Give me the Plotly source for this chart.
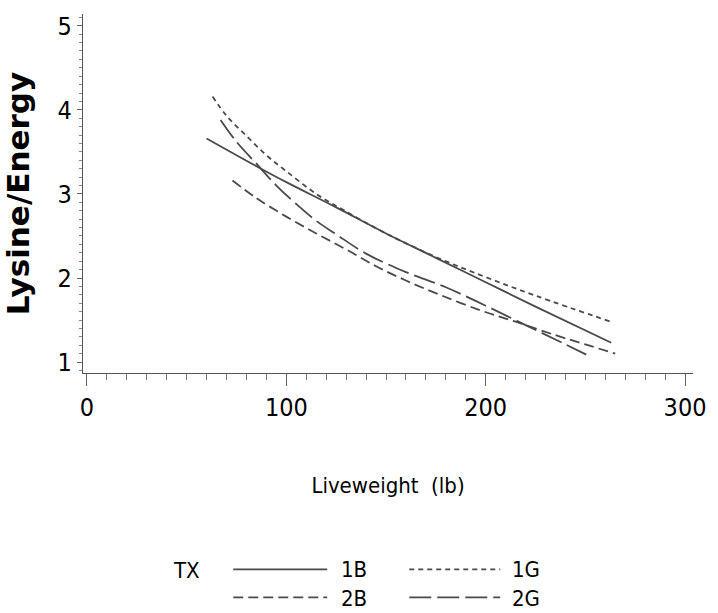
import plotly.graph_objects as go

# ---- data ----
x_1B = [60, 85, 100, 125, 150, 175, 200, 225, 263]
y_1B = [3.66, 3.33, 3.14, 2.84, 2.53, 2.24, 1.95, 1.66, 1.23]

x_1G = [63, 70, 80, 90, 100, 115, 130, 150, 175, 200, 225, 264]
y_1G = [4.16, 3.93, 3.69, 3.46, 3.27, 3.00, 2.79, 2.53, 2.25, 2.01, 1.79, 1.47]

x_2B = [73, 85, 100, 115, 130, 145, 160, 177, 198, 215, 235, 250, 265]
y_2B = [3.16, 2.95, 2.73, 2.53, 2.34, 2.14, 1.97, 1.80, 1.61, 1.48, 1.32, 1.21, 1.10]

x_2G = [67, 75, 85, 95, 105, 115, 125, 140, 160, 180, 200, 220, 240, 253]
y_2G = [3.88, 3.62, 3.36, 3.10, 2.88, 2.68, 2.52, 2.29, 2.07, 1.89, 1.67, 1.44, 1.21, 1.06]

series_names = ["1B", "1G", "2B", "2G"]
x_ticks = [0, 100, 200, 300]
y_ticks = [1, 2, 3, 4, 5]

# ---- styles ----
LINE_COLOR = "#4a4a4a"
dashes = {"1B": "solid", "1G": "5px,4px", "2B": "10px,5px", "2G": "22px,6px"}
series = {"1B": (x_1B, y_1B), "1G": (x_1G, y_1G), "2B": (x_2B, y_2B), "2G": (x_2G, y_2G)}

W, H = 718, 613
L, R, T, B = 83, 18, 13, 240
PW, PH = W - L - R, H - T - B

COND = "DejaVu Sans Condensed, DejaVu Sans, sans-serif"
TICK_FONT = dict(family=COND, size=25, color="black")
LEG_FONT = dict(family=COND, size=22, color="black")

fig = go.Figure()
for name in series_names:
    xs, ys = series[name]
    fig.add_trace(go.Scatter(x=xs, y=ys, mode="lines", name=name, showlegend=False,
                             line=dict(color=LINE_COLOR, width=1.8, dash=dashes[name], shape="spline")))

def px2paper(px, py):
    return (px - L) / PW, (H - B - py) / PH

# manual legend laid out like the original: "TX", then two rows of two entries
legend_grid = [["1B", "1G"], ["2B", "2G"]]   # rows x columns
row_y = [570, 598]
col_line = [(235, 330), (413, 505)]
col_text = [342, 515]

shapes = []
annotations = []
for r, row in enumerate(legend_grid):
    for c, name in enumerate(row):
        x0, y0 = px2paper(col_line[c][0], row_y[r])
        x1, _ = px2paper(col_line[c][1], row_y[r])
        shapes.append(dict(type="line", xref="paper", yref="paper", x0=x0, x1=x1, y0=y0, y1=y0,
                           line=dict(color=LINE_COLOR, width=1.8, dash=dashes[name])))
for c in range(2):
    label = "<br>".join(legend_grid[r][c] for r in range(2))
    tx, ty = px2paper(col_text[c], (row_y[0] + row_y[1]) / 2 + 1)
    annotations.append(dict(text=label, xref="paper", yref="paper", x=tx, y=ty, align="left",
                            xanchor="left", yanchor="middle", showarrow=False, font=LEG_FONT))
tx, ty = px2paper(172, row_y[0] + 1)
annotations.append(dict(text="TX", xref="paper", yref="paper", x=tx, y=ty,
                        xanchor="left", yanchor="middle", showarrow=False, font=LEG_FONT))

fig.update_layout(
    width=W, height=H,
    margin=dict(l=L, r=R, t=T, b=B),
    paper_bgcolor="white", plot_bgcolor="white",
    shapes=shapes, annotations=annotations,
    showlegend=False,
    xaxis=dict(
        range=[-2, 304], showgrid=False, zeroline=False,
        showline=True, linecolor="#555", linewidth=1.2,
        tickmode="array", tickvals=x_ticks, ticktext=[str(v) for v in x_ticks],
        ticks="outside", ticklen=12, tickcolor="#666", tickwidth=1,
        minor=dict(dtick=10, ticks="outside", ticklen=6, tickcolor="#777", tickwidth=1),
        tickfont=TICK_FONT, ticklabelstandoff=0,
        title=dict(text="Liveweight  (lb)", font=LEG_FONT, standoff=56),
    ),
    yaxis=dict(
        range=[0.87, 5.14], showgrid=False, zeroline=False,
        showline=True, linecolor="#555", linewidth=1.2,
        tickmode="array", tickvals=y_ticks, ticktext=[str(v) for v in y_ticks],
        ticks="outside", ticklen=5, tickcolor="#666", tickwidth=1,
        minor=dict(dtick=0.1, ticks="outside", ticklen=3, tickcolor="#888", tickwidth=1),
        tickfont=TICK_FONT,
        ticklabelstandoff=0,
        title=dict(text="<b>Lysine/Energy</b>",
                   font=dict(family="DejaVu Sans, sans-serif", size=31, color="black"),
                   standoff=20),
    ),
)

fig.write_html("out.html")
